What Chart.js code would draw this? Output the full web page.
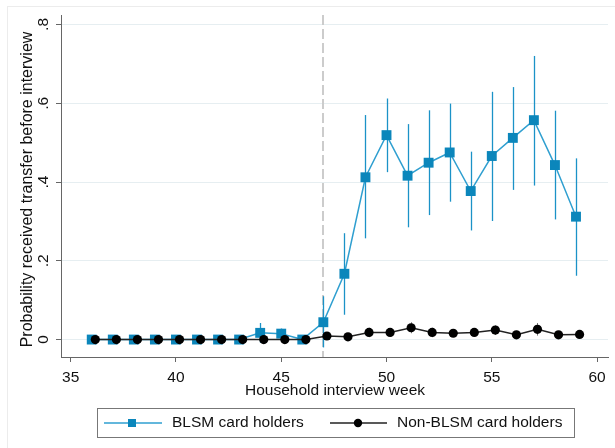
<!DOCTYPE html>
<html>
<head>
<meta charset="utf-8">
<script src="https://cdn.jsdelivr.net/npm/chart.js@4"></script>
<style>
  html, body { margin: 0; padding: 0; background: #fff; }
  canvas { display: block; }
</style>
</head>
<body>
<canvas id="c" width="615" height="448"></canvas>
<script>
// Interview weeks
const weeks = [36, 37, 38, 39, 40, 41, 42, 43, 44, 45, 46, 47, 48, 49, 50, 51, 52, 53, 54, 55, 56, 57, 58, 59];

// BLSM card holders: mean and 95% CI
const blsmMean = [0, 0, 0, 0, 0, 0, 0, 0, 0.017, 0.015, 0, 0.044, 0.167, 0.412, 0.519, 0.416, 0.449, 0.475, 0.377, 0.466, 0.512, 0.557, 0.443, 0.312];
const blsmLow  = [0, 0, 0, 0, 0, 0, 0, 0, -0.008, 0.002, 0, -0.020, 0.063, 0.257, 0.425, 0.285, 0.316, 0.350, 0.277, 0.301, 0.380, 0.391, 0.305, 0.162];
const blsmHigh = [0, 0, 0, 0, 0, 0, 0, 0, 0.042, 0.028, 0, 0.110, 0.270, 0.570, 0.612, 0.547, 0.582, 0.599, 0.477, 0.629, 0.641, 0.720, 0.581, 0.460];

// Non-BLSM card holders: mean and 95% CI
const nonMean = [0, 0, 0, 0, 0, 0, 0, 0, 0, 0, 0, 0.009, 0.007, 0.018, 0.018, 0.030, 0.018, 0.016, 0.018, 0.024, 0.012, 0.026, 0.012, 0.013];
const nonLow  = [0, 0, 0, 0, 0, 0, 0, 0, 0, 0, 0, 0.003, 0.002, 0.006, 0.008, 0.016, 0.006, 0.007, 0.009, 0.012, 0.002, 0.010, 0.002, 0.005];
const nonHigh = [0, 0, 0, 0, 0, 0, 0, 0, 0, 0, 0, 0.015, 0.012, 0.030, 0.028, 0.044, 0.030, 0.025, 0.027, 0.036, 0.022, 0.042, 0.022, 0.021];

// Non-holders plotted slightly to the right so both series stay visible
const nonWeekShift = 0.17;

// Week the transfers started
const cutoffWeek = 47;

// Axis ticks
const xTicks = [35, 40, 45, 50, 55, 60];
const yTicks = [0, 0.2, 0.4, 0.6, 0.8];
const yTickLabels = ['0', '.2', '.4', '.6', '.8'];

const xTitle = 'Household interview week';
const yTitle = 'Probability received transfer before interview';
const seriesNames = ['BLSM card holders', 'Non-BLSM card holders'];

const BLUE_MARK = '#0b86bb';
const BLUE_LINE = '#2f9fd0';
const BLUE_ERR = '#1b92c7';
const FONT = '"Liberation Sans", Arial, sans-serif';
const TEXT = '#111';

const blsmPoints = weeks.map((w, i) => ({ x: w, y: blsmMean[i] }));
const nonPoints = weeks.map((w, i) => ({ x: w + nonWeekShift, y: nonMean[i] }));

// Confidence interval spikes, drawn under the markers
const ciPlugin = {
  id: 'ciSpikes',
  beforeDatasetsDraw(chart) {
    const { ctx, scales: { x, y } } = chart;
    ctx.save();
    const spike = (xv, lo, hi, color, w) => {
      if (hi - lo <= 0) return;
      const px = Math.round(x.getPixelForValue(xv)) + 0.5;
      ctx.strokeStyle = color;
      ctx.lineWidth = w;
      ctx.beginPath();
      ctx.moveTo(px, y.getPixelForValue(lo));
      ctx.lineTo(px, y.getPixelForValue(hi));
      ctx.stroke();
    };
    weeks.forEach((w, i) => spike(w, blsmLow[i], blsmHigh[i], BLUE_ERR, 1.3));
    weeks.forEach((w, i) => spike(w + nonWeekShift, nonLow[i], nonHigh[i], '#777', 1));
    ctx.restore();
  }
};

// Dashed reference line at the start week
const cutoffPlugin = {
  id: 'cutoff',
  beforeDatasetsDraw(chart) {
    const { ctx, chartArea, scales: { x } } = chart;
    const px = Math.round(x.getPixelForValue(cutoffWeek));
    ctx.save();
    ctx.strokeStyle = '#cccccc';
    ctx.lineWidth = 2;
    ctx.setLineDash([10, 4]);
    ctx.beginPath();
    ctx.moveTo(px, chartArea.top);
    ctx.lineTo(px, chartArea.bottom);
    ctx.stroke();
    ctx.restore();
  }
};

// Tick labels, axis titles, legend and outer frame
const textPlugin = {
  id: 'texts',
  afterDraw(chart) {
    const { ctx, chartArea, scales: { x, y } } = chart;
    ctx.save();
    ctx.fillStyle = TEXT;

    // outer frame
    ctx.strokeStyle = '#ececec';
    ctx.lineWidth = 1;
    ctx.strokeRect(7.5, 6.5, 700, 500);

    // x tick labels
    ctx.font = '15.5px ' + FONT;
    ctx.textAlign = 'center';
    ctx.textBaseline = 'middle';
    xTicks.forEach(v => ctx.fillText(String(v), x.getPixelForValue(v), 377.5));

    // x title
    ctx.fillText(xTitle, (chartArea.left + chartArea.right) / 2 + 0.5, 391);

    // y tick labels, rotated
    yTicks.forEach((v, i) => {
      ctx.save();
      ctx.translate(44, y.getPixelForValue(v));
      ctx.rotate(-Math.PI / 2);
      ctx.fillText(yTickLabels[i], 0, 0);
      ctx.restore();
    });

    // y title
    ctx.save();
    ctx.font = '16px ' + FONT;
    ctx.translate(28, 189.5);
    ctx.rotate(-Math.PI / 2);
    ctx.fillText(yTitle, 0, 0);
    ctx.restore();

    // legend box
    const lx = 97.5, ly = 408.5, lw = 477, lh = 29;
    const cy = ly + lh / 2;
    ctx.fillStyle = '#fff';
    ctx.fillRect(lx, ly, lw, lh);
    ctx.strokeStyle = '#777';
    ctx.lineWidth = 1;
    ctx.strokeRect(lx, ly, lw, lh);

    // BLSM key
    ctx.strokeStyle = BLUE_LINE;
    ctx.lineWidth = 1.5;
    ctx.beginPath();
    ctx.moveTo(104, cy);
    ctx.lineTo(162, cy);
    ctx.stroke();
    ctx.fillStyle = BLUE_MARK;
    ctx.fillRect(128, cy - 4, 8, 8);

    // Non-BLSM key
    ctx.strokeStyle = '#222';
    ctx.beginPath();
    ctx.moveTo(330, cy);
    ctx.lineTo(387, cy);
    ctx.stroke();
    ctx.fillStyle = '#000';
    ctx.beginPath();
    ctx.arc(358, cy, 4.2, 0, Math.PI * 2);
    ctx.fill();

    ctx.fillStyle = TEXT;
    ctx.font = '15.5px ' + FONT;
    ctx.textAlign = 'left';
    ctx.fillText(seriesNames[0], 172, cy);
    ctx.fillText(seriesNames[1], 397, cy);

    ctx.restore();
  }
};

new Chart(document.getElementById('c'), {
  type: 'line',
  data: {
    datasets: [
      {
        label: seriesNames[0],
        data: blsmPoints,
        order: 1,
        borderColor: BLUE_LINE,
        borderWidth: 1.5,
        backgroundColor: BLUE_MARK,
        pointStyle: 'rect',
        pointRadius: 7,
        pointBorderWidth: 0,
        pointBackgroundColor: BLUE_MARK,
        tension: 0
      },
      {
        label: seriesNames[1],
        data: nonPoints,
        order: 0,
        borderColor: '#222',
        borderWidth: 1.5,
        backgroundColor: '#000',
        pointStyle: 'circle',
        pointRadius: 4.6,
        pointBorderWidth: 0,
        pointBackgroundColor: '#000',
        tension: 0
      }
    ]
  },
  options: {
    responsive: false,
    animation: false,
    events: [],
    layout: { padding: { top: 15, right: 3, left: 0, bottom: 0 } },
    plugins: { legend: { display: false }, tooltip: { enabled: false } },
    scales: {
      x: {
        type: 'linear',
        min: 34.54,
        max: 60.52,
        afterBuildTicks: s => { s.ticks = xTicks.map(v => ({ value: v })); },
        afterFit: s => { s.height = 91; },
        ticks: { display: false },
        grid: { display: true, drawOnChartArea: false, drawTicks: true, tickLength: 5, tickColor: '#666' },
        border: { display: true, color: '#666', width: 1 }
      },
      y: {
        type: 'linear',
        min: -0.0443,
        max: 0.824,
        afterBuildTicks: s => { s.ticks = yTicks.map(v => ({ value: v })); },
        afterFit: s => { s.width = 61; },
        ticks: { display: false },
        grid: { color: '#e6eef1', lineWidth: 1, drawTicks: true, tickLength: 5, tickColor: '#666' },
        border: { display: true, color: '#666', width: 1 }
      }
    }
  },
  plugins: [cutoffPlugin, ciPlugin, textPlugin]
});
</script>
</body>
</html>
